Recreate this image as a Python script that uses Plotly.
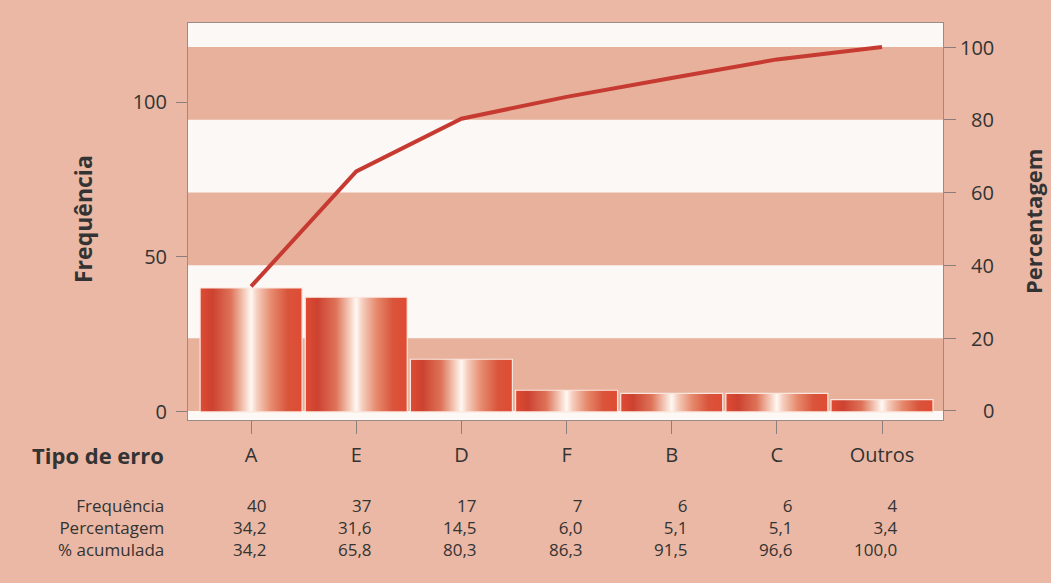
import plotly.graph_objects as go

# ---------------- data ----------------
categories = ["A", "E", "D", "F", "B", "C", "Outros"]
frequencia = [40, 37, 17, 7, 6, 6, 4]
percentagem = [34.2, 31.6, 14.5, 6.0, 5.1, 5.1, 3.4]
acumulada = [34.2, 65.8, 80.3, 86.3, 91.5, 96.6, 100.0]
freq_ticks = [0, 50, 100]
pct_ticks = [0, 20, 40, 60, 80, 100]
row_labels = ["Frequência", "Percentagem", "% acumulada"]

# ---------------- layout geometry (pixels) ----------------
WIDTH, HEIGHT = 1051, 583
L, R, T, B = 188, 943, 23, 420
PW, PH = R - L, B - T


def px(x):
    return (x - L) / PW


def py(y):
    return (B - y) / PH


def fmt(v):
    return f"{v:.1f}".replace(".", ",")


FONT = "'Open Sans', Lato, sans-serif"
TXT = "#333333"
PAPER = "#eab8a4"
BAND = "#e7b19c"
WHITE = "#fcf8f6"

bar_scale = [
    [0.0, "#e04b33"],
    [0.12, "#cc4230"],
    [0.30, "#de7258"],
    [0.42, "#f2c3b1"],
    [0.50, "#fff8f3"],
    [0.56, "#f5cdbd"],
    [0.70, "#e6896c"],
    [0.86, "#d9543b"],
    [1.0, "#e04b33"],
]

fig = go.Figure()

half = 0.485
for i, v in enumerate(frequencia):
    fig.add_trace(go.Scatter(
        x=[i - half, i - half, i + half, i + half, i - half],
        y=[0, v, v, 0, 0],
        mode="lines",
        fill="toself",
        fillgradient=dict(type="horizontal", colorscale=bar_scale),
        line=dict(color="#fbe6dd", width=1.2),
        showlegend=False,
        hoverinfo="skip",
        xaxis="x", yaxis="y",
    ))

fig.add_trace(go.Scatter(
    x=list(range(len(categories))),
    y=acumulada,
    mode="lines",
    line=dict(color="#c63a31", width=4),
    showlegend=False,
    xaxis="x", yaxis="y2",
))

# alternating horizontal bands on percentage scale
shapes = []
for k in range(0, len(pct_ticks) - 1, 2):
    shapes.append(dict(
        type="rect", xref="paper", yref="y2",
        x0=0, x1=1, y0=pct_ticks[k], y1=pct_ticks[k + 1],
        fillcolor=BAND, line=dict(width=0), layer="below",
    ))

annotations = []
annotations.append(dict(text="<b>Frequência</b>", xref="paper", yref="paper",
                        x=px(83), y=py(219), xanchor="center", yanchor="middle",
                        textangle=-90, showarrow=False,
                        font=dict(size=23, color=TXT, family=FONT)))
annotations.append(dict(text="<b>Percentagem</b>", xref="paper", yref="paper",
                        x=px(1033), y=py(222), xanchor="center", yanchor="middle",
                        textangle=-90, showarrow=False,
                        font=dict(size=22, color=TXT, family=FONT)))
annotations.append(dict(text="<b>Tipo de erro</b>", xref="paper", yref="paper",
                        x=px(166), y=py(455), xanchor="right", yanchor="middle",
                        showarrow=False,
                        font=dict(size=22, color=TXT, family=FONT)))

# table below the chart: one multi-line block per column
TABLE_Y = 527
TABLE_FONT = 17
annotations.append(dict(text="<br>".join(row_labels), xref="paper", yref="paper",
                        x=px(166), y=py(TABLE_Y), xanchor="right", yanchor="middle",
                        align="right", showarrow=False,
                        font=dict(size=TABLE_FONT, color=TXT, family=FONT)))
for i in range(len(categories)):
    col = [str(frequencia[i]), fmt(percentagem[i]), fmt(acumulada[i])]
    annotations.append(dict(text="<br>".join(col), xref="x", yref="paper",
                            x=i, y=py(TABLE_Y), xanchor="right", yanchor="middle",
                            align="right", xshift=18, showarrow=False,
                            font=dict(size=TABLE_FONT, color=TXT, family=FONT)))

for v in pct_ticks:
    annotations.append(dict(text=str(v), xref="paper", yref="y2",
                            x=px(996), y=v, xanchor="right", yanchor="middle",
                            showarrow=False,
                            font=dict(size=20, color=TXT, family=FONT)))

fig.update_layout(
    width=WIDTH, height=HEIGHT,
    margin=dict(l=L, r=WIDTH - R, t=T, b=HEIGHT - B, pad=0),
    paper_bgcolor=PAPER,
    plot_bgcolor=WHITE,
    font=dict(family=FONT, color=TXT),
    shapes=shapes,
    annotations=annotations,
    xaxis=dict(
        range=[-0.6, 6.58],
        tickvals=list(range(len(categories))),
        ticktext=categories,
        ticks="outside", ticklen=13, tickcolor="#8c7f7b", tickwidth=1,
        tickfont=dict(size=20, color=TXT, family=FONT),
        ticklabelstandoff=4,
        showgrid=False, zeroline=False,
        showline=True, linecolor="#9b8b86", linewidth=1, mirror=True,
    ),
    yaxis=dict(
        range=[-2.6, 125.5],
        tickvals=freq_ticks,
        ticks="outside", ticklen=11, tickcolor="#8c7f7b",
        tickfont=dict(size=20, color=TXT, family=FONT),
        ticklabelstandoff=5,
        showgrid=False, zeroline=False,
        showline=True, linecolor="#9b8b86", linewidth=1, mirror=True,
    ),
    yaxis2=dict(
        range=[-2.5, 106.6],
        overlaying="y", side="right",
        tickvals=pct_ticks,
        ticks="outside", ticklen=12, tickcolor="#8c7f7b",
        showticklabels=False,
        showgrid=False, zeroline=False,
    ),
)

fig.write_html("out.html")
